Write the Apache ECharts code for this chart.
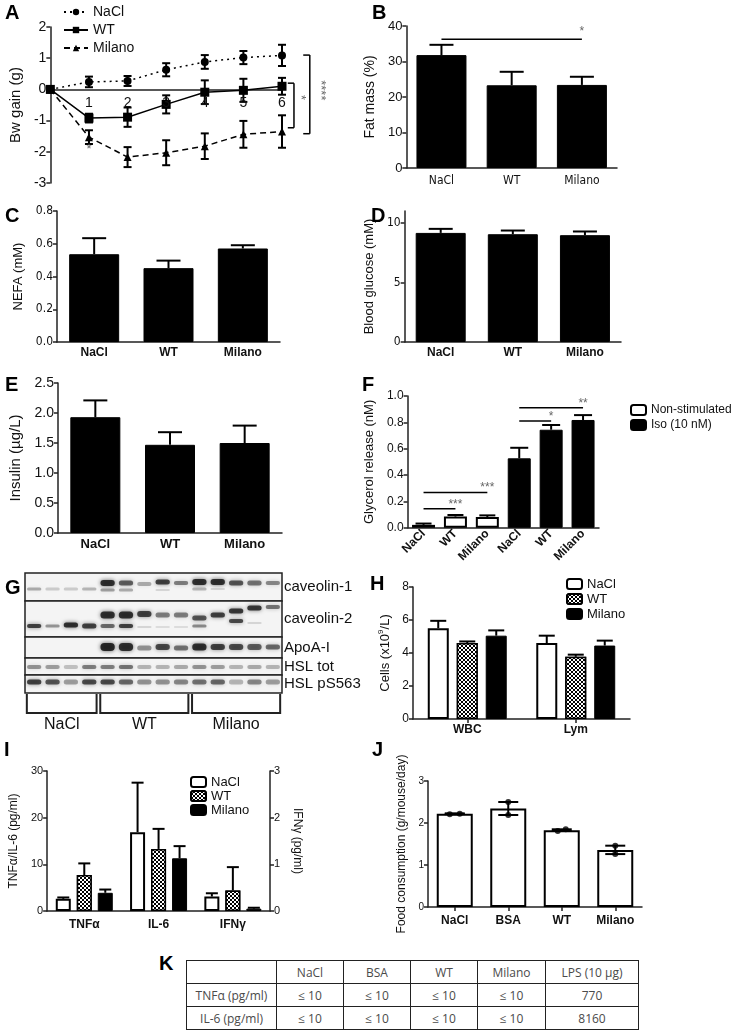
<!DOCTYPE html>
<html>
<head>
<meta charset="utf-8">
<script src="https://cdn.jsdelivr.net/npm/echarts@6/dist/echarts.min.js"></script>
<style>
  body { margin: 0; background: #fff; width: 731px; height: 1035px; position: relative; overflow: hidden; }
  .panel { position: absolute; }
  #letterK { position: absolute; left: 159px; top: 952px; font: bold 20px 'Liberation Sans', Arial, sans-serif; }
  #tK { position: absolute; left: 186px; top: 960px; border-collapse: collapse; font-family: 'Open Sans', 'Liberation Sans', sans-serif; font-size: 12px; color: #4a4a4a; }
  #tK td { border: 1.5px solid #222; height: 22px; padding: 0; text-align: center; }
</style>
</head>
<body>
<div id="pA" class="panel" style="left:0;top:0;width:360px;height:195px"></div>
<div id="pB" class="panel" style="left:355px;top:0;width:376px;height:195px"></div>
<div id="pC" class="panel" style="left:0;top:195px;width:360px;height:170px"></div>
<div id="pD" class="panel" style="left:355px;top:195px;width:376px;height:170px"></div>
<div id="pE" class="panel" style="left:0;top:365px;width:360px;height:195px"></div>
<div id="pF" class="panel" style="left:355px;top:365px;width:376px;height:200px"></div>
<div id="pG" class="panel" style="left:0;top:565px;width:370px;height:172px"></div>
<div id="pH" class="panel" style="left:355px;top:565px;width:376px;height:172px"></div>
<div id="pI" class="panel" style="left:0;top:735px;width:360px;height:210px"></div>
<div id="pJ" class="panel" style="left:355px;top:735px;width:376px;height:215px"></div>
<div id="letterK">K</div>
<table id="tK"></table>

<script>
// ---- data ----
// A: body weight gain per day
var daysA = [0, 1, 2, 3, 4, 5, 6];
var naclGain = [0, 0.24, 0.27, 0.63, 0.88, 1.02, 1.09];
var naclGainErr = [0, 0.17, 0.16, 0.21, 0.22, 0.21, 0.34];
var wtGain = [0, -0.92, -0.89, -0.48, -0.09, -0.03, 0.1];
var wtGainErr = [0, 0.14, 0.31, 0.29, 0.38, 0.37, 0.27];
var milanoGain = [0, -1.53, -2.17, -2.03, -1.82, -1.44, -1.35];
var milanoGainErr = [0, 0.22, 0.32, 0.4, 0.41, 0.43, 0.52];

// B-E: three groups
var groups = ['NaCl', 'WT', 'Milano'];
var fatMass = [31.8, 23.3, 23.4];
var fatMassErr = [2.9, 3.8, 2.3];
var nefa = [0.536, 0.451, 0.571];
var nefaErr = [0.098, 0.046, 0.02];
var glucose = [9.16, 9.05, 8.97];
var glucoseErr = [0.34, 0.31, 0.31];
var insulin = [1.93, 1.47, 1.5];
var insulinErr = [0.28, 0.21, 0.29];

// F: glycerol release
var glycerolCats = ['NaCl', 'WT', 'Milano', 'NaCl', 'WT', 'Milano'];
var glycerolNon = [0.022, 0.085, 0.082];
var glycerolNonErr = [0.01, 0.012, 0.012];
var glycerolIso = [0.527, 0.744, 0.818];
var glycerolIsoErr = [0.08, 0.036, 0.037];

// G: western blot bands [lane, y, intensity, thickness]
var blotRows = ['caveolin-1', 'caveolin-2', 'ApoA-I', 'HSL tot', 'HSL pS563'];
var blotRowEdges = [0, 28, 64, 85, 102, 120];
var blotGroupLanes = [[0, 4], [4, 9], [9, 14]];
var blotBands = [
  [0,16,0.35,3],[1,16,0.2,3],[2,16,0.2,3],[3,16,0.3,3],
  [4,10,0.95,6],[5,10,0.7,5],[6,11,0.35,4],[7,9,0.85,5],[8,10,0.55,4],
  [9,9,0.95,6],[10,9,0.95,6],[11,10,0.75,5],[12,10,0.6,5],[13,10,0.5,4],
  [4,17,0.4,3],[5,17,0.35,3],[7,17,0.15,2],[9,16,0.3,3],[10,16,0.15,2],
  [0,53,0.85,4],[1,53,0.45,3],[2,52,0.95,5],[3,53,0.85,5],
  [4,42,0.95,7],[5,42,0.95,7],[6,41,0.85,6],[7,42,0.55,5],[8,42,0.55,5],
  [4,53,0.65,4],[5,53,0.85,4],[6,54,0.15,2],[7,54,0.12,2],[8,54,0.12,2],
  [9,45,0.75,5],[10,42,0.85,5],[11,38,0.9,5],[12,35,0.9,5],[13,34,0.6,4],
  [9,53,0.5,3],[11,48,0.8,4],[12,50,0.15,2],
  [4,74,1.0,8],[5,74,0.95,8],[6,75,0.45,5],[7,74,0.8,6],[8,75,0.6,5],
  [9,74,0.95,7],[10,74,0.85,6],[11,74,0.8,6],[12,74,0.7,6],[13,74,0.65,5],
  [0,94,0.45,4],[1,94,0.4,4],[2,94,0.25,4],[3,94,0.55,4],[4,94,0.55,4],[5,94,0.6,4],[6,94,0.3,4],
  [7,94,0.3,4],[8,94,0.35,4],[9,94,0.45,4],[10,94,0.4,4],[11,94,0.3,4],[12,94,0.35,4],[13,94,0.3,4],
  [0,109,0.85,5],[1,109,0.75,5],[2,109,0.4,5],[3,109,0.8,5],[4,109,0.8,5],[5,109,0.65,5],[6,109,0.45,5],
  [7,109,0.45,5],[8,109,0.5,5],[9,109,0.6,5],[10,109,0.65,5],[11,109,0.3,5],[12,109,0.5,5],[13,109,0.4,5]
];

// H: blood cells
var cellCats = ['WBC', 'Lym'];
var cellsNaCl = [5.5, 4.6];
var cellsNaClErr = [0.45, 0.45];
var cellsWT = [4.6, 3.77];
var cellsWTErr = [0.1, 0.13];
var cellsMilano = [5.05, 4.45];
var cellsMilanoErr = [0.32, 0.3];

// I: cytokines (TNFa, IL-6 on left axis; IFNg on right axis)
var cytoCats = ['TNFα', 'IL-6', 'IFNγ'];
var cytoNaCl = [2.6, 16.9];
var cytoNaClErr = [0.3, 10.6];
var cytoWT = [7.7, 13.3];
var cytoWTErr = [2.5, 4.3];
var cytoMilano = [3.9, 11.3];
var cytoMilanoErr = [0.7, 2.6];
var ifnNaCl = 0.31, ifnNaClErr = 0.07;
var ifnWT = 0.44, ifnWTErr = 0.5;
var ifnMilano = 0.05, ifnMilanoErr = 0.02;

// J: food consumption
var foodCats = ['NaCl', 'BSA', 'WT', 'Milano'];
var food = [2.22, 2.345, 1.83, 1.36];
var foodDev = [0.01, 0.155, 0.02, 0.1];
var foodDots = [[2.21, 2.22], [2.5, 2.19], [1.81, 1.85], [1.46, 1.26]];

// K: table
var tableHead = ['', 'NaCl', 'BSA', 'WT', 'Milano', 'LPS (10 µg)'];
var tableRows = [
  ['TNFα (pg/ml)', '≤ 10', '≤ 10', '≤ 10', '≤ 10', '770'],
  ['IL-6 (pg/ml)', '≤ 10', '≤ 10', '≤ 10', '≤ 10', '8160']
];

// ---- helpers ----
var FONT = "'Liberation Sans', Arial, sans-serif";
var NARROW = "'Liberation Sans Narrow', 'DejaVu Sans Condensed', sans-serif";
var AX = '#222';

function merge(a, b) {
  if (!b) return a;
  for (var k in b) {
    if (b[k] && typeof b[k] === 'object' && !Array.isArray(b[k]) && a[k] && typeof a[k] === 'object' && !Array.isArray(a[k])) merge(a[k], b[k]);
    else a[k] = b[k];
  }
  return a;
}

function letter(t, left, top) {
  return { text: t, left: left, top: top, padding: 0,
    textStyle: { fontFamily: FONT, fontSize: 20, fontWeight: 'bold', color: '#000' } };
}

function yAxisOpt(o) {
  return merge({
    type: 'value', nameLocation: 'middle',
    nameTextStyle: { color: '#111', fontFamily: FONT, fontSize: 13 },
    axisLine: { show: true, lineStyle: { color: AX, width: 1.5 } },
    axisTick: { show: true, length: 4, lineStyle: { color: AX, width: 1.5 } },
    axisLabel: { color: '#111', fontFamily: FONT, fontSize: 13, margin: 4 },
    splitLine: { show: false }
  }, o);
}

function xCatOpt(cats, o) {
  return merge({
    type: 'category', data: cats,
    axisLine: { show: true, onZero: false, lineStyle: { color: AX, width: 1.5 } },
    axisTick: { show: false },
    axisLabel: { color: '#111', fontFamily: FONT, fontSize: 12, fontWeight: 'bold', margin: 5 },
    splitLine: { show: false }
  }, o);
}

var BLACK = { color: '#000', borderColor: '#000', borderWidth: 1 };
var WHITE = { color: '#fff', borderColor: '#000', borderWidth: 2 };
var CHECK = { color: '#fff', borderColor: '#000', borderWidth: 1.5,
  decal: { symbol: 'rect', symbolSize: 1, dashArrayX: [[2, 2], [0, 2, 2, 0]], dashArrayY: [2, 0], color: '#000', backgroundColor: '#fff' } };

// error bars: points [x, mean, err]
function errSeries(points, o) {
  o = o || {};
  return {
    type: 'custom', silent: true, clip: false, z: o.z || 1,
    xAxisIndex: o.xAxisIndex || 0, yAxisIndex: o.yAxisIndex || 0,
    data: points,
    renderItem: function (params, api) {
      var x = api.value(0), m = api.value(1), e = api.value(2);
      var p0 = api.coord([x, m]);
      var p1 = api.coord([x, m + e]);
      var p2 = api.coord([x, o.both ? m - e : m]);
      var cx = p0[0] + (o.offset || 0);
      var cw = (o.cap || 8) / 2;
      var st = { stroke: '#000', lineWidth: o.lw || 1.5 };
      var kids = [
        { type: 'line', shape: { x1: cx, y1: p2[1], x2: cx, y2: p1[1] }, style: st },
        { type: 'line', shape: { x1: cx - cw, y1: p1[1], x2: cx + cw, y2: p1[1] }, style: st }
      ];
      if (o.both) kids.push({ type: 'line', shape: { x1: cx - cw, y1: p2[1], x2: cx + cw, y2: p2[1] }, style: st });
      return { type: 'group', children: kids };
    }
  };
}

// straight annotation lines: [x1, y1, x2, y2]
function lineMarks(segs, o) {
  o = o || {};
  return {
    type: 'custom', silent: true, clip: false, z: 5, data: segs,
    renderItem: function (params, api) {
      var a = api.coord([api.value(0), api.value(1)]);
      var b = api.coord([api.value(2), api.value(3)]);
      return { type: 'line', shape: { x1: a[0], y1: a[1], x2: b[0], y2: b[1] },
        style: { stroke: o.color || '#000', lineWidth: o.lw || 1.5 } };
    }
  };
}

// annotation text at [x, y]
function textMarks(pts, texts, o) {
  o = o || {};
  return {
    type: 'custom', silent: true, clip: false, z: 5,
    xAxisIndex: o.xAxisIndex || 0, yAxisIndex: o.yAxisIndex || 0,
    data: pts,
    renderItem: function (params, api) {
      var p = api.coord([api.value(0), api.value(1)]);
      return { type: 'text', x: p[0] + (o.dx || 0), y: p[1] + (o.dy || 0), rotation: o.rot || 0,
        style: { text: texts[params.dataIndex], fill: o.color || '#666', fontSize: o.size || 12,
          fontFamily: o.font || FONT, fontWeight: o.weight || 'normal',
          align: o.align || 'center', verticalAlign: 'middle' } };
    }
  };
}

function withIndex(vals, errs) {
  return vals.map(function (v, i) { return [i, v, errs[i]]; });
}

// ---- A ----
var chartA = echarts.init(document.getElementById('pA'));
chartA.setOption({
  animation: false,
  title: letter('A', 5, 3),
  legend: {
    orient: 'vertical', left: 58, top: 0, itemWidth: 24, itemHeight: 8, itemGap: 4,
    textStyle: { fontFamily: FONT, fontSize: 14, color: '#111', lineHeight: 14 },
    data: ['NaCl', 'WT', 'Milano']
  },
  grid: { left: 49, top: 27, width: 233, height: 156 },
  xAxis: {
    type: 'value', min: 0, max: 6, interval: 1,
    axisLine: { onZero: true, lineStyle: { color: AX, width: 1.5 } },
    axisTick: { show: false }, splitLine: { show: false },
    axisLabel: { show: false }
  },
  yAxis: yAxisOpt({ min: -3, max: 2, interval: 1, name: 'Bw gain (g)', nameGap: 14,
    nameTextStyle: { fontSize: 15 }, axisLabel: { fontSize: 14 } }),
  series: [
    { name: 'NaCl', type: 'line', z: 3, data: daysA.map(function (d, i) { return [d, naclGain[i]]; }),
      symbol: 'circle', symbolSize: 8, lineStyle: { color: '#000', width: 1.5, type: [2, 4] }, itemStyle: { color: '#000' } },
    { name: 'WT', type: 'line', z: 3, data: daysA.map(function (d, i) { return [d, wtGain[i]]; }),
      symbol: 'rect', symbolSize: 9, lineStyle: { color: '#000', width: 1.5 }, itemStyle: { color: '#000' } },
    { name: 'Milano', type: 'line', z: 3, data: daysA.map(function (d, i) { return [d, milanoGain[i]]; }),
      symbol: 'triangle', symbolSize: 8, lineStyle: { color: '#000', width: 1.5, type: [6, 4] }, itemStyle: { color: '#000' } },
    errSeries(daysA.slice(1).map(function (d) { return [d, naclGain[d], naclGainErr[d]]; }), { both: true, cap: 8, lw: 2, z: 4 }),
    errSeries(daysA.slice(1).map(function (d) { return [d, wtGain[d], wtGainErr[d]]; }), { both: true, cap: 8, lw: 2, z: 4 }),
    errSeries(daysA.slice(1).map(function (d) { return [d, milanoGain[d], milanoGainErr[d]]; }), { both: true, cap: 8, lw: 2, z: 4 }),
    // day labels sit just under the zero line
    textMarks(daysA.slice(1).map(function (d) { return [d, 0]; }), daysA.slice(1).map(String),
      { color: '#111', size: 14, dy: 14 }),
    lineMarks([
      [6.31, 0.2, 6.31, -1.23], [6.15, 0.2, 6.31, 0.2], [6.15, -1.23, 6.31, -1.23],
      [6.72, 1.1, 6.72, -1.42], [6.55, 1.1, 6.72, 1.1], [6.55, -1.42, 6.72, -1.42]
    ]),
    textMarks([[6.48, -0.26], [7.0, -0.03]], ['*', '****'], { rot: -Math.PI / 2, size: 13 }),
    textMarks([[1, -1.93]], ['*'], { size: 13 })
  ]
});

// ---- B ----
var chartB = echarts.init(document.getElementById('pB'));
chartB.setOption({
  animation: false,
  title: letter('B', 17, 3),
  grid: { left: 40, top: 26, width: 222, height: 142 },
  xAxis: xCatOpt(groups, { axisLabel: { fontFamily: NARROW, fontSize: 12, fontWeight: 'normal', margin: 7 } }),
  yAxis: yAxisOpt({ min: 0, max: 40, interval: 10, name: 'Fat mass (%)', nameGap: 20, nameTextStyle: { fontSize: 14 } }),
  series: [
    { type: 'bar', data: fatMass, barWidth: 50, itemStyle: BLACK },
    errSeries(withIndex(fatMass, fatMassErr), { cap: 24, lw: 2 }),
    lineMarks([[0, 36.3, 2, 36.3]]),
    textMarks([[1.64, 38.4]], ['*'])
  ]
});

// ---- C ----
var chartC = echarts.init(document.getElementById('pC'));
chartC.setOption({
  animation: false,
  title: letter('C', 5, 11),
  grid: { left: 57, top: 16, width: 223, height: 131 },
  xAxis: xCatOpt(groups),
  yAxis: yAxisOpt({ min: 0, max: 0.8, interval: 0.2, name: 'NEFA (mM)', nameGap: 24,
    axisLabel: { fontFamily: NARROW, fontSize: 12, formatter: function (v) { return v.toFixed(1); } } }),
  series: [
    { type: 'bar', data: nefa, barWidth: 50, itemStyle: BLACK },
    errSeries(withIndex(nefa, nefaErr), { cap: 24, lw: 2 })
  ]
});

// ---- D ----
var chartD = echarts.init(document.getElementById('pD'));
chartD.setOption({
  animation: false,
  title: letter('D', 16, 11),
  grid: { left: 41, top: 16, width: 225, height: 131 },
  xAxis: xCatOpt(groups),
  yAxis: yAxisOpt({ min: 0, max: 11, name: 'Blood glucose (mM)', nameGap: 21,
    axisTick: { customValues: [0, 5, 10] },
    axisLabel: { fontFamily: NARROW, fontSize: 12, customValues: [0, 5, 10] } }),
  series: [
    { type: 'bar', data: glucose, barWidth: 50, itemStyle: BLACK },
    errSeries(withIndex(glucose, glucoseErr), { cap: 24, lw: 2 })
  ]
});

// ---- E ----
var chartE = echarts.init(document.getElementById('pE'));
chartE.setOption({
  animation: false,
  title: letter('E', 5, 10),
  grid: { left: 58, top: 18, width: 224, height: 150 },
  xAxis: xCatOpt(groups, { axisLabel: { fontSize: 13 } }),
  yAxis: yAxisOpt({ min: 0, max: 2.5, interval: 0.5, name: 'Insulin (µg/L)', nameGap: 28,
    nameTextStyle: { fontSize: 15 }, axisLabel: { fontSize: 14, formatter: function (v) { return v.toFixed(1); } } }),
  series: [
    { type: 'bar', data: insulin, barWidth: 50, itemStyle: BLACK },
    errSeries(withIndex(insulin, insulinErr), { cap: 24, lw: 2 })
  ]
});

// ---- F ----
var chartF = echarts.init(document.getElementById('pF'));
var padNon = glycerolNon.concat(['-', '-', '-']);
var padIso = ['-', '-', '-'].concat(glycerolIso);
chartF.setOption({
  animation: false,
  title: letter('F', 7, 10),
  legend: {
    orient: 'vertical', left: 270, top: 33, itemWidth: 15, itemHeight: 10, itemGap: 1,
    textStyle: { fontFamily: FONT, fontSize: 12, color: '#111', lineHeight: 14 },
    data: ['Non-stimulated', 'Iso (10 nM)']
  },
  grid: { left: 45, top: 31, width: 199, height: 134 },
  xAxis: xCatOpt(glycerolCats, { axisLabel: { rotate: 45, margin: 4 } }),
  yAxis: yAxisOpt({ min: 0, max: 1, interval: 0.2, name: 'Glycerol release (nM)', nameGap: 28,
    axisLabel: { fontSize: 12, formatter: function (v) { return v.toFixed(1); } } }),
  series: [
    { name: 'Non-stimulated', type: 'bar', stack: 'g', data: padNon, barWidth: 23, itemStyle: WHITE },
    { name: 'Iso (10 nM)', type: 'bar', stack: 'g', data: padIso, barWidth: 23, itemStyle: BLACK },
    errSeries(withIndex(glycerolNon, glycerolNonErr), { cap: 16, lw: 2 }),
    errSeries(glycerolIso.map(function (v, i) { return [i + 3, v, glycerolIsoErr[i]]; }), { cap: 18, lw: 2 }),
    lineMarks([[0, 0.144, 1, 0.144], [0, 0.268, 2, 0.268], [3, 0.81, 4, 0.81], [3, 0.91, 5, 0.91]]),
    textMarks([[0.5, 0.174], [1.5, 0.302], [3.87, 0.845], [4.55, 0.94]], ['***', '***', '*', '**'])
  ]
});

// ---- G (western blot) ----
var chartG = echarts.init(document.getElementById('pG'));
var rowPairs = blotRows.map(function (r, i) { return [blotRowEdges[i], blotRowEdges[i + 1]]; });
chartG.setOption({
  animation: false,
  title: letter('G', 5, 13),
  grid: { left: 25, top: 8, width: 257, height: 120 },
  xAxis: { type: 'value', min: 0, max: 14, show: false },
  yAxis: { type: 'value', min: 0, max: 120, inverse: true, show: false },
  series: [
    { type: 'custom', silent: true, clip: false, z: 1, data: rowPairs,
      renderItem: function (params, api) {
        var a = api.coord([0, api.value(0)]), b = api.coord([14, api.value(1)]);
        return { type: 'rect', shape: { x: a[0], y: a[1], width: b[0] - a[0], height: b[1] - a[1] },
          style: { fill: '#f4f4f4', stroke: '#222', lineWidth: 1.5 } };
      } },
    { type: 'custom', silent: true, clip: false, z: 2, data: blotBands,
      renderItem: function (params, api) {
        var c = api.coord([api.value(0) + 0.5, api.value(1)]);
        var w = api.size([0.78, 0])[0];
        var h = api.value(3), k = api.value(2);
        return { type: 'rect', shape: { x: c[0] - w / 2, y: c[1] - h / 2, width: w, height: h, r: h / 2 },
          style: { fill: 'rgba(25,25,25,' + (k * 0.9) + ')', shadowBlur: 4, shadowColor: 'rgba(0,0,0,' + (k * 0.7) + ')' } };
      } },
    { type: 'custom', silent: true, clip: false, z: 3, data: blotGroupLanes,
      renderItem: function (params, api) {
        var a = api.coord([api.value(0) + 0.1, 121]), b = api.coord([api.value(1) - 0.1, 140]);
        return { type: 'polyline', shape: { points: [[a[0], a[1]], [a[0], b[1]], [b[0], b[1]], [b[0], a[1]]] },
          style: { stroke: '#222', lineWidth: 2, fill: null } };
      } },
    textMarks(blotGroupLanes.map(function (g) { return [(g[0] + g[1]) / 2, 152]; }), groups,
      { color: '#111', size: 16 }),
    textMarks(rowPairs.map(function (r) { return [14, (r[0] + r[1]) / 2]; }), blotRows,
      { color: '#111', size: 15, align: 'left', dx: 2 })
  ]
});

// ---- H ----
var CELL_OFF = [-29, 0, 29];
var chartH = echarts.init(document.getElementById('pH'));
chartH.setOption({
  animation: false,
  title: letter('H', 15, 9),
  legend: {
    orient: 'vertical', left: 206, top: 7, itemWidth: 15, itemHeight: 10, itemGap: 1,
    textStyle: { fontFamily: FONT, fontSize: 13, color: '#111', lineHeight: 14 },
    data: ['NaCl', 'WT', 'Milano']
  },
  grid: { left: 58, top: 22, width: 217, height: 132 },
  xAxis: xCatOpt(cellCats, { axisTick: { show: true, alignWithLabel: true, length: 4, lineStyle: { color: AX, width: 1.5 } } }),
  yAxis: yAxisOpt({ min: 0, max: 8, interval: 2, name: 'Cells (x10{s|9}/L)', nameGap: 14,
    nameTextStyle: { rich: { s: { fontSize: 8, verticalAlign: 'top', padding: [0, 0, 8, 0] } } },
    axisLabel: { fontSize: 12 } }),
  series: [
    { name: 'NaCl', type: 'bar', data: cellsNaCl, barWidth: 21, barGap: '38%', itemStyle: WHITE },
    { name: 'WT', type: 'bar', data: cellsWT, barWidth: 21, barGap: '38%', itemStyle: CHECK },
    { name: 'Milano', type: 'bar', data: cellsMilano, barWidth: 21, barGap: '38%', itemStyle: BLACK },
    errSeries(withIndex(cellsNaCl, cellsNaClErr), { offset: CELL_OFF[0], cap: 16, lw: 2 }),
    errSeries(withIndex(cellsWT, cellsWTErr), { offset: CELL_OFF[1], cap: 16, lw: 2 }),
    errSeries(withIndex(cellsMilano, cellsMilanoErr), { offset: CELL_OFF[2], cap: 16, lw: 2 })
  ]
});

// ---- I ----
var CYTO_OFF = [-21, 0, 21];
var chartI = echarts.init(document.getElementById('pI'));
chartI.setOption({
  animation: false,
  title: letter('I', 4, 5),
  legend: {
    orient: 'vertical', left: 185, top: 35, itemWidth: 15, itemHeight: 10, itemGap: 0,
    textStyle: { fontFamily: FONT, fontSize: 13, color: '#111', lineHeight: 14 },
    data: ['NaCl', 'WT', 'Milano']
  },
  grid: { left: 40, top: 36, width: 230, height: 140 },
  xAxis: [
    xCatOpt(cytoCats, { axisLabel: { margin: 8 } }),
    { type: 'category', data: cytoCats, show: false }
  ],
  yAxis: [
    yAxisOpt({ min: 0, max: 30, interval: 10, name: 'TNFα/IL-6 (pg/ml)', nameGap: 19,
      nameTextStyle: { fontSize: 12 }, axisLabel: { fontSize: 11 } }),
    yAxisOpt({ position: 'right', min: 0, max: 3, interval: 1, name: 'IFNγ (pg/ml)', nameGap: 20, nameRotate: -90,
      nameTextStyle: { fontSize: 12 }, axisLabel: { fontSize: 11 } })
  ],
  series: [
    { name: 'NaCl', type: 'bar', data: cytoNaCl.concat(['-']), barWidth: 15, barGap: '40%', itemStyle: WHITE },
    { name: 'WT', type: 'bar', data: cytoWT.concat(['-']), barWidth: 15, barGap: '40%', itemStyle: CHECK },
    { name: 'Milano', type: 'bar', data: cytoMilano.concat(['-']), barWidth: 15, barGap: '40%', itemStyle: BLACK },
    { name: 'NaCl', type: 'bar', xAxisIndex: 1, yAxisIndex: 1, data: ['-', '-', ifnNaCl], barWidth: 15, barGap: '40%', itemStyle: WHITE },
    { name: 'WT', type: 'bar', xAxisIndex: 1, yAxisIndex: 1, data: ['-', '-', ifnWT], barWidth: 15, barGap: '40%', itemStyle: CHECK },
    { name: 'Milano', type: 'bar', xAxisIndex: 1, yAxisIndex: 1, data: ['-', '-', ifnMilano], barWidth: 15, barGap: '40%', itemStyle: BLACK },
    errSeries(withIndex(cytoNaCl, cytoNaClErr), { offset: CYTO_OFF[0], cap: 12, lw: 2 }),
    errSeries(withIndex(cytoWT, cytoWTErr), { offset: CYTO_OFF[1], cap: 12, lw: 2 }),
    errSeries(withIndex(cytoMilano, cytoMilanoErr), { offset: CYTO_OFF[2], cap: 12, lw: 2 }),
    errSeries([[2, ifnNaCl, ifnNaClErr]], { xAxisIndex: 1, yAxisIndex: 1, offset: CYTO_OFF[0], cap: 12, lw: 2 }),
    errSeries([[2, ifnWT, ifnWTErr]], { xAxisIndex: 1, yAxisIndex: 1, offset: CYTO_OFF[1], cap: 12, lw: 2 }),
    errSeries([[2, ifnMilano, ifnMilanoErr]], { xAxisIndex: 1, yAxisIndex: 1, offset: CYTO_OFF[2], cap: 12, lw: 2 })
  ]
});

// ---- J ----
var DOT_SHIFT = [[-5, 5], [0, 0], [-4, 4], [0, 0]];
var dotData = [];
foodDots.forEach(function (pair, i) {
  pair.forEach(function (v, j) { dotData.push({ value: [i, v], symbolOffset: [DOT_SHIFT[i][j], 0] }); });
});
var chartJ = echarts.init(document.getElementById('pJ'));
chartJ.setOption({
  animation: false,
  title: letter('J', 17, 5),
  grid: { left: 73, top: 46, width: 214, height: 126 },
  xAxis: xCatOpt(foodCats, { axisLabel: { margin: 8 },
    axisTick: { show: true, alignWithLabel: true, length: 4, lineStyle: { color: AX, width: 1.5 } } }),
  yAxis: yAxisOpt({ min: 0, max: 3, interval: 1, name: 'Food consumption (g/mouse/day)', nameGap: 14,
    nameTextStyle: { fontSize: 12 }, axisLabel: { fontSize: 10 } }),
  series: [
    { type: 'bar', data: food, barWidth: 36, itemStyle: WHITE },
    errSeries(withIndex(food, foodDev), { both: true, cap: 20, lw: 2, z: 3 }),
    { type: 'scatter', data: dotData, symbol: 'circle', symbolSize: 6, itemStyle: { color: '#000' }, z: 4 }
  ]
});

// ---- K (table) ----
var colW = [89, 66, 66, 66, 67, 92];
var tK = document.getElementById('tK');
[tableHead].concat(tableRows).forEach(function (row) {
  var tr = document.createElement('tr');
  row.forEach(function (cell, i) {
    var td = document.createElement('td');
    td.textContent = cell;
    td.style.width = colW[i] + 'px';
    tr.appendChild(td);
  });
  tK.appendChild(tr);
});
</script>
</body>
</html>
